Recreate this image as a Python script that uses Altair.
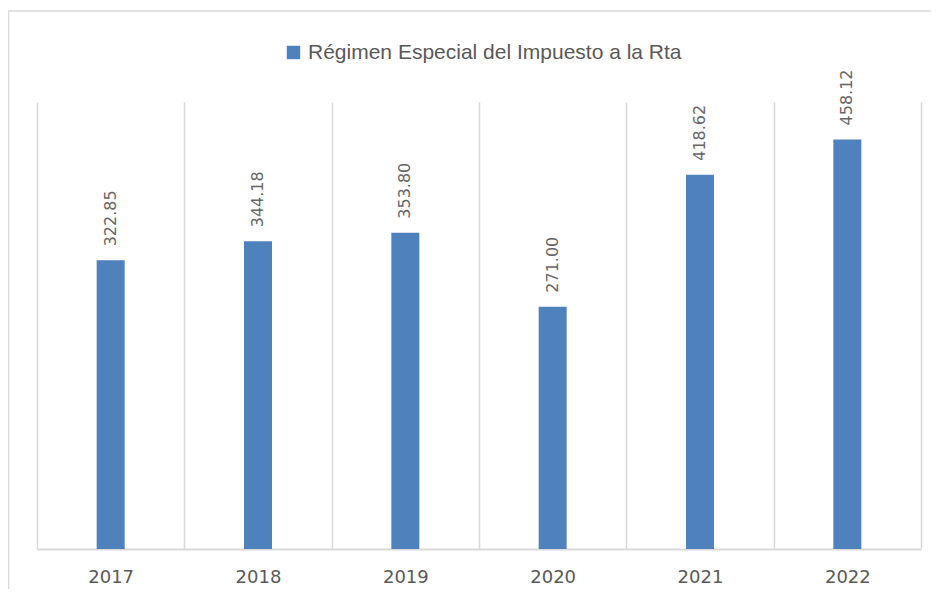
import altair as alt
import pandas as pd

years = ["2017", "2018", "2019", "2020", "2021", "2022"]
values = [322.85, 344.18, 353.80, 271.00, 418.62, 458.12]
series = "Régimen Especial del Impuesto a la Rta"

df = pd.DataFrame({"year": years, "value": values, "series": [series] * len(years)})
df["label"] = [f"{v:.2f}" for v in values]

BLUE = "#4F81BD"
GRAY_TXT = "#595959"
GRID = "#D9D9D9"

x = alt.X("year:N", title=None, sort=years,
          scale=alt.Scale(paddingInner=0, paddingOuter=0),
          axis=alt.Axis(labelAngle=0, grid=True, ticks=False, tickBand="extent",
                        gridColor=GRID, gridWidth=1.5, domainColor=GRID, domainWidth=2,
                        labelFont="DejaVu Sans", labelFontSize=18, labelColor=GRAY_TXT,
                        labelPadding=19))
y = alt.Y("value:Q", title=None, scale=alt.Scale(domain=[0, 500]), axis=None)

frame = alt.Chart(pd.DataFrame({"f": [0]})).mark_rect(
    fill=None, stroke=GRID, strokeWidth=1.5
).encode(x=alt.value(-28.5), x2=alt.value(1000), y=alt.value(-91), y2=alt.value(700))

bars = alt.Chart(df).mark_bar(size=28).encode(
    x=x, y=y,
    color=alt.Color("series:N", scale=alt.Scale(range=[BLUE]),
                    legend=alt.Legend(title=None, orient="none", legendX=246, legendY=-60,
                                      padding=0, symbolType="square",
                                      symbolSize=180, symbolStrokeWidth=0, symbolOffset=0,
                                      labelOffset=4,
                                      labelFont="Liberation Sans", labelFontSize=21,
                                      labelColor=GRAY_TXT, labelLimit=600))
)

text = alt.Chart(df).mark_text(
    angle=270, align="left", baseline="middle", dx=14,
    font="DejaVu Sans", fontSize=16, color="#666666"
).encode(x=alt.X("year:N", sort=years), y="value:Q", text="label:N")

chart = alt.layer(frame, bars, text).properties(
    width=884, height=447,
    autosize=alt.AutoSizeParams(type="none"),
    padding={"left": 29, "top": 94, "right": 10, "bottom": 40},
).configure_view(stroke=None)

chart.save("out.html", embed_options={"renderer": "svg", "actions": False})
